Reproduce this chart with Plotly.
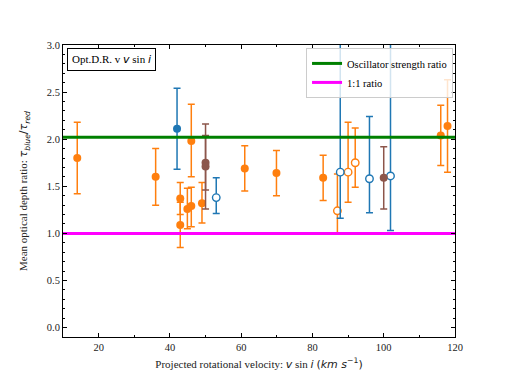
import plotly.graph_objects as go

# ---- data ----
orange_x = [14, 36, 46, 42.9, 42.9, 44.9, 46.0, 49, 61, 69.9, 83, 116, 117.9]
orange_y = [1.80, 1.60, 1.98, 1.37, 1.09, 1.26, 1.29, 1.32, 1.69, 1.64, 1.59, 2.04, 2.14]
orange_ep = [0.38, 0.30, 0.39, 0.17, 0.24, 0.22, 0.20, 0.22, 0.24, 0.24, 0.24, 0.32, 0.49]
orange_em = [0.38, 0.30, 0.38, 0.17, 0.24, 0.21, 0.22, 0.21, 0.24, 0.24, 0.24, 0.32, 0.49]

orange_open_x = [87.0, 90.0, 92.0]
orange_open_y = [1.24, 1.65, 1.75]
orange_open_ep = [0.39, 0.53, 0.37]
orange_open_em = [0.25, 0.32, 0.26]

blue_x = [42.0]
blue_y = [2.11]
blue_ep = [0.43]
blue_em = [0.43]

blue_open_x = [53.0, 87.8, 96.0, 101.9]
blue_open_y = [1.38, 1.65, 1.58, 1.61]
blue_open_ep = [0.21, 1.60, 0.66, 1.60]
blue_open_em = [0.17, 0.49, 0.36, 0.58]

brown_x = [50.0, 50.0, 100.0]
brown_y = [1.75, 1.71, 1.59]
brown_ep = [0.29, 0.45, 0.33]
brown_em = [0.29, 0.45, 0.33]

osc_ratio = 2.02
unit_ratio = 1.0
x_range = [10, 120]
y_range = [-0.1, 3.0]

ORANGE = "#ff7f0e"
BLUE = "#1f77b4"
BROWN = "#8c564b"
SERIF = "Liberation Serif"
SANS = "DejaVu Sans"

fig = go.Figure()


def add_series(x, y, ep, em, color, filled):
    fig.add_trace(go.Scatter(
        x=x, y=y, mode="markers", showlegend=False,
        marker=dict(symbol="circle", size=8 if filled else 7.5,
                    color=color if filled else "white",
                    line=dict(color=color, width=0 if filled else 1.4)),
        error_y=dict(type="data", symmetric=False, array=ep, arrayminus=em,
                     color=color, thickness=1.5, width=3.5),
    ))


add_series(orange_x, orange_y, orange_ep, orange_em, ORANGE, True)
add_series(orange_open_x, orange_open_y, orange_open_ep, orange_open_em, ORANGE, False)
add_series(blue_x, blue_y, blue_ep, blue_em, BLUE, True)
add_series(blue_open_x, blue_open_y, blue_open_ep, blue_open_em, BLUE, False)
add_series(brown_x, brown_y, brown_ep, brown_em, BROWN, True)

fig.add_trace(go.Scatter(x=x_range, y=[osc_ratio, osc_ratio], mode="lines",
                         line=dict(color="green", width=3),
                         name="Oscillator strength ratio"))
fig.add_trace(go.Scatter(x=x_range, y=[unit_ratio, unit_ratio], mode="lines",
                         line=dict(color="magenta", width=3),
                         name="1:1 ratio"))

sp = lambda s: f"<span style='font-family:{SANS}'>{s}</span>"

fig.add_annotation(
    xref="paper", yref="paper", x=0.01, y=0.99, xanchor="left", yanchor="top",
    text="Opt.D.R. v " + sp("<i>v</i>") + " sin " + sp("<i>i</i>"),
    showarrow=False, bordercolor="black", borderwidth=1, borderpad=4,
    bgcolor="white", font=dict(family=SERIF, size=11, color="black"),
)

axis_common = dict(
    showgrid=False, zeroline=False, showline=True, linecolor="black", linewidth=1,
    mirror="allticks", ticks="inside", ticklen=4, tickcolor="black",
    tickfont=dict(family=SERIF, size=10.5, color="#222"),
)

fig.update_xaxes(
    range=x_range, tick0=0, dtick=20, **axis_common,
    minor=dict(ticks="inside", dtick=10, ticklen=2, tickcolor="black"),
    title=dict(text="Projected rotational velocity: " + sp("<i>v</i>") + " sin "
               + sp("<i>i</i>") + " " + sp("(<i>km s</i><sup>−1</sup>)"),
               font=dict(family=SERIF, size=11, color="#222"), standoff=8),
)
fig.update_yaxes(
    range=y_range, tick0=0, dtick=0.5, tickformat=".1f", **axis_common,
    minor=dict(ticks="inside", dtick=0.1, ticklen=2, tickcolor="black"),
    title=dict(text="Mean optical depth ratio: " + sp("<i>τ<sub>blue</sub></i>/<i>τ<sub>red</sub></i>"),
               font=dict(family=SERIF, size=11, color="#222"), standoff=16),
)

fig.update_layout(
    width=506, height=379,
    margin=dict(l=63, r=51, t=45, b=42, autoexpand=False),
    paper_bgcolor="white", plot_bgcolor="white",
    font=dict(family=SERIF, size=11, color="black"),
    legend=dict(x=0.995, y=0.99, xanchor="right", yanchor="top",
                bgcolor="rgba(255,255,255,0.8)", bordercolor="#ccc", borderwidth=1,
                font=dict(family=SERIF, size=10.5, color="black"),
                itemwidth=30, tracegroupgap=0),
)

fig.write_html("out.html", config={"displayModeBar": False},
               post_script="document.body.style.margin='0';")
